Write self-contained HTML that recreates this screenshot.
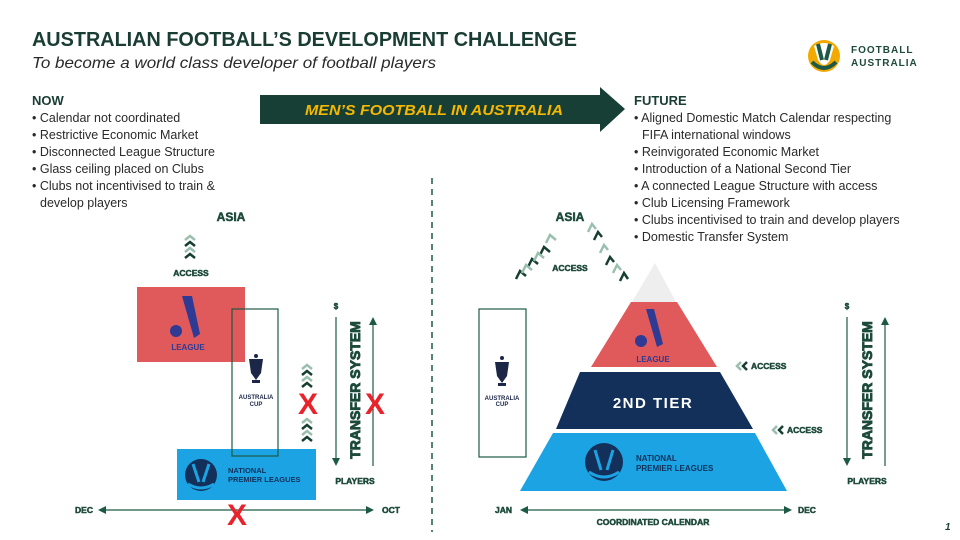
<!DOCTYPE html>
<html><head><meta charset="utf-8"><style>
body{margin:0;background:#fff;}
svg{display:block;font-family:"Liberation Sans",sans-serif;}
svg text.k{font-weight:bold;fill:#1d4a3a;stroke:#1d4a3a;stroke-width:0.5px;}
svg text.k2{stroke-width:0.9px;}
</style></head><body>
<svg width="960" height="540" viewBox="0 0 960 540" xmlns="http://www.w3.org/2000/svg">
<defs>
<marker id="ah" markerWidth="8" markerHeight="8" refX="6" refY="4" orient="auto" markerUnits="userSpaceOnUse"><path d="M0,0 L8,4 L0,8 Z" fill="#1d5a45"/></marker>
<g id="chev"><polyline points="-5,3 0,-1 5,3" fill="none" stroke-width="2.5"/></g>
</defs>
<text x="32" y="46" font-size="20" font-weight="bold" fill="#1a3d33" textLength="545" lengthAdjust="spacingAndGlyphs">AUSTRALIAN FOOTBALL’S DEVELOPMENT CHALLENGE</text>
<text x="32" y="68" font-size="16" font-style="italic" fill="#2a2a2a" textLength="404" lengthAdjust="spacingAndGlyphs">To become a world class developer of football players</text>
<circle cx="824" cy="56" r="16" fill="#f2a900"/>
<path d="M814,46 Q824,40 834,46 L830,60 Q824,70 818,60 Z" fill="#fff"/>
<path d="M818,44 L822,60 M830,44 L826,60 M812,62 Q824,74 836,62" stroke="#1d5a45" stroke-width="4" fill="none"/>
<text x="851" y="53" font-size="10" font-weight="bold" fill="#1d4a3a" letter-spacing="1">FOOTBALL</text>
<text x="851" y="66" font-size="10" font-weight="bold" fill="#1d4a3a" letter-spacing="1">AUSTRALIA</text>
<path d="M260,95 L600,95 L600,87 L625,109 L600,132 L600,124 L260,124 Z" fill="#173f35"/>
<text x="434" y="115" font-size="15" font-weight="bold" font-style="italic" fill="#f5b800" text-anchor="middle" textLength="258" lengthAdjust="spacingAndGlyphs">MEN’S FOOTBALL IN AUSTRALIA</text>
<text x="32" y="105" font-size="13" font-weight="bold" fill="#1a3d33">NOW</text>
<g fill="#2a2a2a" font-size="12.5">
<text x="32" y="122">• Calendar not coordinated</text>
<text x="32" y="139">• Restrictive Economic Market</text>
<text x="32" y="156">• Disconnected League Structure</text>
<text x="32" y="173">• Glass ceiling placed on Clubs</text>
<text x="32" y="190">• Clubs not incentivised to train &amp;</text>
<text x="40" y="207">develop players</text>
</g>
<text x="634" y="105" font-size="13" font-weight="bold" fill="#1a3d33">FUTURE</text>
<g fill="#2a2a2a" font-size="12.5">
<text x="634" y="122">• Aligned Domestic Match Calendar respecting</text>
<text x="642" y="139">FIFA international windows</text>
<text x="634" y="156">• Reinvigorated Economic Market</text>
<text x="634" y="173">• Introduction of a National Second Tier</text>
<text x="634" y="190">• A connected League Structure with access</text>
<text x="634" y="207">• Club Licensing Framework</text>
<text x="634" y="224">• Clubs incentivised to train and develop players</text>
<text x="634" y="241">• Domestic Transfer System</text>
</g>
<line x1="432" y1="178" x2="432" y2="532" stroke="#1d5a45" stroke-width="1.5" stroke-dasharray="6,5"/>

<text class="k" x="231" y="221" font-size="12" text-anchor="middle">ASIA</text>
<text class="k" x="191" y="276" font-size="8.5" text-anchor="middle">ACCESS</text>
<text class="k" x="336" y="309" font-size="8" text-anchor="middle">$</text>
<text class="k k2" transform="translate(360,390) rotate(-90)" font-size="14" text-anchor="middle">TRANSFER SYSTEM</text>
<text class="k" x="355" y="484" font-size="8.5" text-anchor="middle">PLAYERS</text>
<text class="k" x="93" y="513" font-size="8.5" text-anchor="end">DEC</text>
<text class="k" x="382" y="513" font-size="8.5">OCT</text>
<text class="k" x="570" y="221" font-size="12" text-anchor="middle">ASIA</text>
<text class="k" x="570" y="271" font-size="8.5" text-anchor="middle">ACCESS</text>
<text class="k" x="751" y="369" font-size="8.5">ACCESS</text>
<text class="k" x="787" y="433" font-size="8.5">ACCESS</text>
<text class="k" x="847" y="309" font-size="8" text-anchor="middle">$</text>
<text class="k k2" transform="translate(872,390) rotate(-90)" font-size="14" text-anchor="middle">TRANSFER SYSTEM</text>
<text class="k" x="867" y="484" font-size="8.5" text-anchor="middle">PLAYERS</text>
<text class="k" x="512" y="513" font-size="8.5" text-anchor="end">JAN</text>
<text class="k" x="798" y="513" font-size="8.5">DEC</text>
<text class="k" x="653" y="525" font-size="8.5" text-anchor="middle">COORDINATED CALENDAR</text>

<g stroke="#9bbfae"><use href="#chev" x="190" y="237"/><use href="#chev" x="190" y="249"/></g>
<g stroke="#163f32"><use href="#chev" x="190" y="243"/><use href="#chev" x="190" y="255"/></g>
<rect x="137" y="287" width="108" height="75" fill="#e05a5c"/>
<path d="M182,296 L192,296 L200,334 L194,338 Z" fill="#2e3a93"/>
<circle cx="176" cy="331" r="6" fill="#2e3a93"/>
<text x="188" y="350" font-size="8" font-weight="bold" fill="#2e3a93" text-anchor="middle">LEAGUE</text>
<rect x="177" y="449" width="139" height="51" fill="#1ba3e3"/>
<circle cx="201" cy="475" r="16" fill="#12305a"/>
<path d="M193,464 L199,482 M209,464 L203,482 M188,484 Q201,492 214,484" stroke="#1ba3e3" stroke-width="3" fill="none"/>
<text x="228" y="473" font-size="7.5" font-weight="bold" fill="#12305a">NATIONAL</text>
<text x="228" y="482" font-size="7.5" font-weight="bold" fill="#12305a">PREMIER LEAGUES</text>
<rect x="232" y="309" width="46" height="147" fill="none" stroke="#1d5a45" stroke-width="1.2"/>
<path d="M249,359 L263,359 L261,373 L256,380 L251,373 Z" fill="#1c2748"/>
<circle cx="256" cy="356" r="2" fill="#1c2748"/><rect x="252" y="380" width="8" height="3" fill="#1c2748"/>
<text x="256" y="399" font-size="6" font-weight="bold" fill="#1c2748" text-anchor="middle">AUSTRALIA</text>
<text x="256" y="406" font-size="6" font-weight="bold" fill="#1c2748" text-anchor="middle">CUP</text>
<g stroke="#9bbfae"><use href="#chev" x="307" y="366"/><use href="#chev" x="307" y="378"/><use href="#chev" x="307" y="420"/><use href="#chev" x="307" y="432"/></g>
<g stroke="#163f32"><use href="#chev" x="307" y="372"/><use href="#chev" x="307" y="384"/><use href="#chev" x="307" y="426"/><use href="#chev" x="307" y="438"/></g>
<line x1="336" y1="317" x2="336" y2="464" stroke="#1d5a45" stroke-width="1.2" marker-end="url(#ah)"/>
<line x1="373" y1="466" x2="373" y2="319" stroke="#1d5a45" stroke-width="1.2" marker-end="url(#ah)"/>
<line x1="100" y1="510" x2="372" y2="510" stroke="#1d5a45" stroke-width="1.2" marker-end="url(#ah)"/>
<path d="M106,506 L98,510 L106,514 Z" fill="#1d5a45"/>
<g font-size="30" font-weight="bold" fill="#e8232b" text-anchor="middle">
<text x="308" y="414">X</text><text x="375" y="414">X</text><text x="237" y="525">X</text></g>

<g stroke-width="2.5" fill="none">
<g stroke="#163f32"><polyline points="516,279 520,271 526,276"/><polyline points="528,267 532,259 538,264"/><polyline points="540,255 544,247 550,252"/></g>
<g stroke="#9bbfae"><polyline points="522,273 526,265 532,270"/><polyline points="534,261 538,253 544,258"/><polyline points="546,243 550,235 556,240"/></g>
<g stroke="#163f32"><polyline points="620,281 624,273 628,279"/><polyline points="606,265 610,257 614,262"/><polyline points="594,240 598,232 602,237"/></g>
<g stroke="#9bbfae"><polyline points="613,273 617,265 621,270"/><polyline points="600,253 604,245 608,250"/><polyline points="588,232 592,224 596,229"/></g>
</g>
<polygon points="655,263 676,302 632,302" fill="#eeeeee"/>
<polygon points="631,302 677,302 717,367 591,367" fill="#e05a5c"/>
<path d="M646,309 L654,309 L663,344 L657,347 Z" fill="#2e3a93"/>
<circle cx="641" cy="341" r="6" fill="#2e3a93"/>
<text x="653" y="362" font-size="8" font-weight="bold" fill="#2e3a93" text-anchor="middle">LEAGUE</text>
<polygon points="580,372 720,372 753,429 556,429" fill="#12305a"/>
<text x="653" y="408" font-size="15" font-weight="bold" fill="#fff" text-anchor="middle" letter-spacing="1.5">2ND TIER</text>
<polygon points="553,433 755,433 787,491 520,491" fill="#1ba3e3"/>
<circle cx="604" cy="462" r="19" fill="#12305a"/>
<path d="M595,450 L601,470 M613,450 L607,470 M589,472 Q604,482 619,472" stroke="#1ba3e3" stroke-width="3" fill="none"/>
<text x="636" y="461" font-size="8" font-weight="bold" fill="#12305a">NATIONAL</text>
<text x="636" y="471" font-size="8" font-weight="bold" fill="#12305a">PREMIER LEAGUES</text>
<rect x="479" y="309" width="47" height="148" fill="none" stroke="#1d5a45" stroke-width="1.2"/>
<path d="M495,362 L509,362 L507,376 L502,383 L497,376 Z" fill="#1c2748"/>
<circle cx="502" cy="358" r="2" fill="#1c2748"/><rect x="498" y="383" width="8" height="3" fill="#1c2748"/>
<text x="502" y="400" font-size="6" font-weight="bold" fill="#1c2748" text-anchor="middle">AUSTRALIA</text>
<text x="502" y="406" font-size="6" font-weight="bold" fill="#1c2748" text-anchor="middle">CUP</text>
<g fill="none" stroke-width="2.5">
<polyline points="741,362 737,366 741,370" stroke="#9bbfae"/><polyline points="747,362 743,366 747,370" stroke="#163f32"/>
<polyline points="777,426 773,430 777,434" stroke="#9bbfae"/><polyline points="783,426 779,430 783,434" stroke="#163f32"/>
</g>
<line x1="847" y1="317" x2="847" y2="464" stroke="#1d5a45" stroke-width="1.2" marker-end="url(#ah)"/>
<line x1="885" y1="466" x2="885" y2="319" stroke="#1d5a45" stroke-width="1.2" marker-end="url(#ah)"/>
<line x1="522" y1="510" x2="790" y2="510" stroke="#1d5a45" stroke-width="1.2" marker-end="url(#ah)"/>
<path d="M528,506 L520,510 L528,514 Z" fill="#1d5a45"/>
<text x="945" y="530" font-size="10" font-style="italic" font-weight="bold" fill="#1a3d33">1</text>
</svg>
</body></html>
